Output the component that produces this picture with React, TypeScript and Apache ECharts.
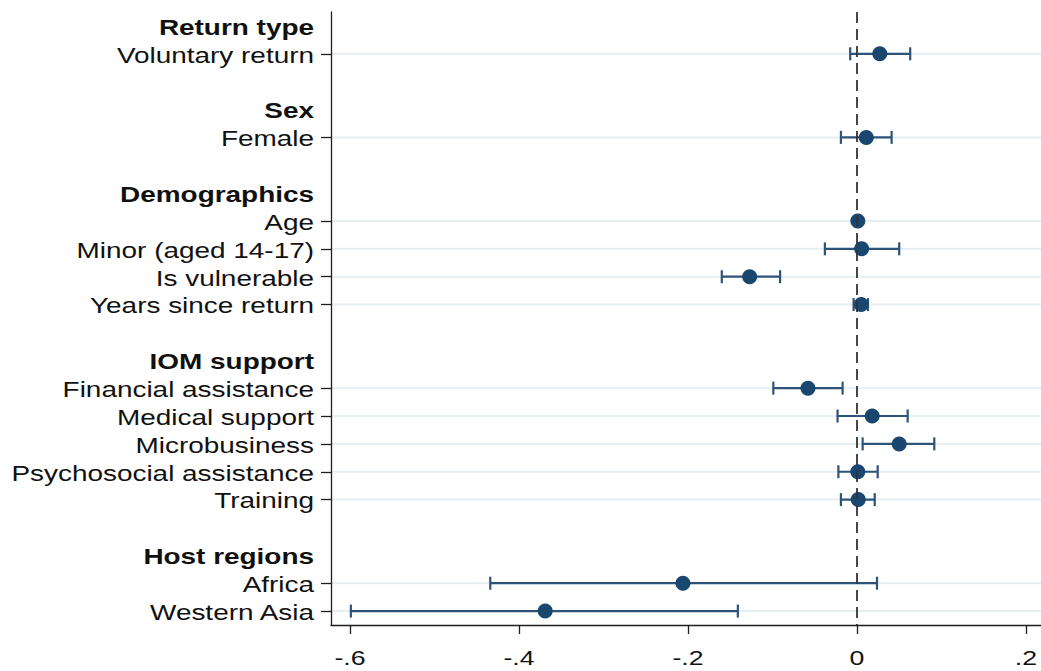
import React, { useEffect, useRef } from "react";
import * as echarts from "echarts";

// Coefficient groups and terms (in display order)
const groups = ["Return type", "Sex", "Demographics", "IOM support", "Host regions"];
const terms = [
  "Voluntary return",
  "Female",
  "Age",
  "Minor (aged 14-17)",
  "Is vulnerable",
  "Years since return",
  "Financial assistance",
  "Medical support",
  "Microbusiness",
  "Psychosocial assistance",
  "Training",
  "Africa",
  "Western Asia",
];
const termGroup = [0, 1, 2, 2, 2, 2, 3, 3, 3, 3, 3, 4, 4];

// Point estimates and confidence interval bounds
const estimates = [0.027, 0.011, 0.001, 0.0055, -0.127, 0.005, -0.058, 0.018, 0.05, 0.001, 0.0015, -0.206, -0.369];
const lower = [-0.008, -0.019, -0.002, -0.038, -0.16, -0.004, -0.099, -0.023, 0.0067, -0.022, -0.019, -0.434, -0.599];
const upper = [0.063, 0.041, 0.003, 0.05, -0.091, 0.013, -0.017, 0.06, 0.0915, 0.0245, 0.021, 0.0237, -0.141];

// X axis ticks
const xTicks = [-0.6, -0.4, -0.2, 0, 0.2];
const xTickLabels = ["-.6", "-.4", "-.2", "0", ".2"];
const xMin = -0.6225;
const xMax = 0.2178;

type Row = { name: string; kind: "header" | "term" | "gap"; term?: number };

const rows: Row[] = [];
groups.forEach((g, gi) => {
  if (gi > 0) rows.push({ name: `gap-${gi}`, kind: "gap" });
  rows.push({ name: g, kind: "header" });
  terms.forEach((t, ti) => {
    if (termGroup[ti] === gi) rows.push({ name: t, kind: "term", term: ti });
  });
});
const termRow = terms.map((_, ti) => rows.findIndex((r) => r.kind === "term" && r.term === ti));
const labelRows = rows.map((r, i) => ({ ...r, idx: i })).filter((r) => r.kind !== "gap");

// Text is set in an Arial-metric face, widened horizontally
const FONT = "Liberation Sans";
const FONT_SIZE = 22;
const WIDEN = 1.27;
const TEXT = "#111111";
const AXIS = "#1e1e1e";
const NAVY = "#1a476f";
const BAR = "#2d5478";

export default function App() {
  const ref = useRef<HTMLDivElement>(null);

  useEffect(() => {
    document.body.style.margin = "0";
    if (!ref.current) return;
    const chart = echarts.init(ref.current, undefined, { renderer: "svg" });

    const option: any = {
      animation: false,
      backgroundColor: "#ffffff",
      grid: { left: 331, right: 0, top: 12, bottom: 46, outerBoundsMode: "none" },
      xAxis: {
        type: "value",
        min: xMin,
        max: xMax,
        axisLine: { show: true, onZero: false, lineStyle: { color: AXIS, width: 1.3 } },
        axisTick: { show: true, customValues: xTicks, length: 9, lineStyle: { color: AXIS, width: 1.3 } },
        axisLabel: { show: false },
        splitLine: { show: false },
      },
      yAxis: {
        type: "category",
        inverse: true,
        boundaryGap: true,
        data: rows.map((r) => r.name),
        axisLine: { show: true, onZero: false, lineStyle: { color: AXIS, width: 1.3 } },
        axisTick: {
          show: true,
          alignWithLabel: true,
          length: 10,
          interval: (i: number) => rows[i] && rows[i].kind === "term",
          lineStyle: { color: AXIS, width: 1.3 },
        },
        axisLabel: { show: false },
        splitLine: { show: false },
      },
      series: [
        {
          // light row guides for each term
          type: "custom",
          z: 0,
          silent: true,
          data: termRow.map((r) => [0, r]),
          renderItem: (params: any, api: any) => {
            const y = api.coord([0, api.value(1)])[1];
            const cs = params.coordSys;
            return {
              type: "line",
              shape: { x1: cs.x, y1: y, x2: cs.x + cs.width, y2: y },
              style: { stroke: "#e6eef1", lineWidth: 2 },
            };
          },
        },
        {
          // reference line at zero
          type: "line",
          z: 1,
          data: [],
          markLine: {
            silent: true,
            symbol: ["none", "none"],
            label: { show: false },
            lineStyle: { type: [11, 6], color: "#333333", width: 1.8 },
            data: [{ xAxis: 0 }],
          },
        },
        {
          // confidence intervals with end caps
          type: "custom",
          z: 2,
          silent: true,
          encode: { x: [0, 2], y: 1 },
          data: terms.map((_, i) => [lower[i], termRow[i], upper[i]]),
          renderItem: (_params: any, api: any) => {
            const row = api.value(1);
            const p1 = api.coord([api.value(0), row]);
            const p2 = api.coord([api.value(2), row]);
            const h = 6.5;
            const style = { stroke: BAR, lineWidth: 2.2 };
            return {
              type: "group",
              children: [
                { type: "line", shape: { x1: p1[0], y1: p1[1], x2: p2[0], y2: p2[1] }, style },
                { type: "line", shape: { x1: p1[0], y1: p1[1] - h, x2: p1[0], y2: p1[1] + h }, style },
                { type: "line", shape: { x1: p2[0], y1: p2[1] - h, x2: p2[0], y2: p2[1] + h }, style },
              ],
            };
          },
        },
        {
          // point estimates
          type: "scatter",
          z: 3,
          symbol: "circle",
          symbolSize: 15,
          itemStyle: { color: NAVY, opacity: 1 },
          data: terms.map((_, i) => [estimates[i], termRow[i]]),
        },
        {
          // row labels: group headers in bold, terms in regular weight
          type: "custom",
          z: 4,
          silent: true,
          clip: false,
          data: labelRows.map((r) => [xMin, r.idx]),
          renderItem: (params: any, api: any) => {
            const r = labelRows[params.dataIndex];
            const y = api.coord([xMin, api.value(1)])[1];
            return {
              type: "text",
              x: params.coordSys.x - 17,
              y: y + 1,
              scaleX: WIDEN,
              style: {
                text: r.name,
                fontFamily: FONT,
                fontSize: FONT_SIZE,
                fontWeight: r.kind === "header" ? "bold" : "normal",
                fill: TEXT,
                align: "right",
                verticalAlign: "middle",
              },
            };
          },
        },
        {
          // x tick labels
          type: "custom",
          z: 4,
          silent: true,
          clip: false,
          data: xTicks.map((v) => [v, 0]),
          renderItem: (params: any, api: any) => {
            const cs = params.coordSys;
            const x = api.coord([api.value(0), 0])[0];
            return {
              type: "text",
              x,
              y: cs.y + cs.height + 33,
              scaleX: WIDEN,
              style: {
                text: xTickLabels[params.dataIndex],
                fontFamily: FONT,
                fontSize: 21,
                fill: TEXT,
                align: "center",
                verticalAlign: "middle",
              },
            };
          },
        },
      ],
    };

    chart.setOption(option);
    return () => chart.dispose();
  }, []);

  return <div ref={ref} style={{ width: 1041, height: 671 }} />;
}
